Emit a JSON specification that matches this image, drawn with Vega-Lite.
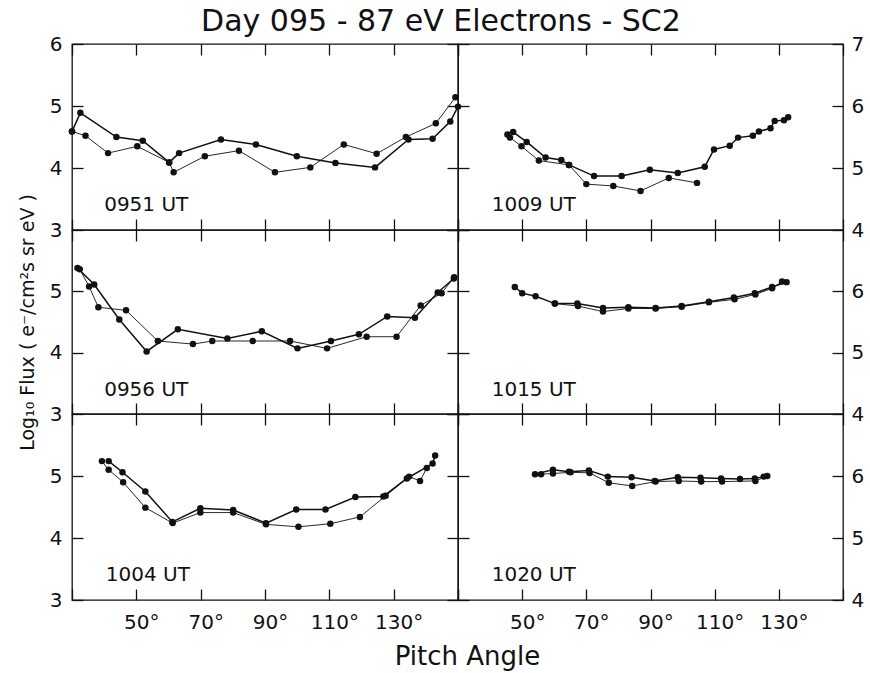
{
  "$schema": "https://vega.github.io/schema/vega-lite/v6.json",
  "padding": {"left": 17, "top": 7, "right": 5, "bottom": 5},
  "background": "white",
  "title": {"text": "Day 095 - 87 eV Electrons - SC2", "fontSize": 30, "font": "DejaVu Sans", "fontWeight": "normal", "color": "#111", "anchor": "middle", "offset": -4},
  "config": {
    "font": "DejaVu Sans",
    "view": {"stroke": "#111", "strokeWidth": 1.3},
    "axis": {"grid": false, "domain": false, "tickColor": "#111", "tickWidth": 1.3, "tickSize": -11, "labelColor": "#111", "labelFont": "DejaVu Sans", "labelFontSize": 20, "labelFontWeight": "normal", "labelFlush": false, "labelOverlap": false, "titleColor": "#111", "titleFont": "DejaVu Sans", "titleFontWeight": "normal"}
  },
  "datasets": {
    "flux": [
      {"panel": "0951 UT", "sweep": "a", "angle": 30, "flux": 4.59},
      {"panel": "0951 UT", "sweep": "a", "angle": 32.6, "flux": 4.89},
      {"panel": "0951 UT", "sweep": "a", "angle": 43.8, "flux": 4.50},
      {"panel": "0951 UT", "sweep": "a", "angle": 52.0, "flux": 4.44},
      {"panel": "0951 UT", "sweep": "a", "angle": 60.2, "flux": 4.09},
      {"panel": "0951 UT", "sweep": "a", "angle": 63.3, "flux": 4.24},
      {"panel": "0951 UT", "sweep": "a", "angle": 76.3, "flux": 4.46},
      {"panel": "0951 UT", "sweep": "a", "angle": 87.2, "flux": 4.38},
      {"panel": "0951 UT", "sweep": "a", "angle": 99.9, "flux": 4.19},
      {"panel": "0951 UT", "sweep": "a", "angle": 111.9, "flux": 4.08},
      {"panel": "0951 UT", "sweep": "a", "angle": 124.2, "flux": 4.01},
      {"panel": "0951 UT", "sweep": "a", "angle": 134.6, "flux": 4.46},
      {"panel": "0951 UT", "sweep": "a", "angle": 142.1, "flux": 4.47},
      {"panel": "0951 UT", "sweep": "a", "angle": 147.6, "flux": 4.75},
      {"panel": "0951 UT", "sweep": "a", "angle": 150.0, "flux": 4.99},
      {"panel": "0951 UT", "sweep": "b", "angle": 30, "flux": 4.59},
      {"panel": "0951 UT", "sweep": "b", "angle": 34.2, "flux": 4.52},
      {"panel": "0951 UT", "sweep": "b", "angle": 41.2, "flux": 4.24},
      {"panel": "0951 UT", "sweep": "b", "angle": 50.3, "flux": 4.35},
      {"panel": "0951 UT", "sweep": "b", "angle": 60.2, "flux": 4.09},
      {"panel": "0951 UT", "sweep": "b", "angle": 61.6, "flux": 3.93},
      {"panel": "0951 UT", "sweep": "b", "angle": 71.3, "flux": 4.19},
      {"panel": "0951 UT", "sweep": "b", "angle": 81.9, "flux": 4.28},
      {"panel": "0951 UT", "sweep": "b", "angle": 93.1, "flux": 3.93},
      {"panel": "0951 UT", "sweep": "b", "angle": 104.1, "flux": 4.01},
      {"panel": "0951 UT", "sweep": "b", "angle": 114.5, "flux": 4.38},
      {"panel": "0951 UT", "sweep": "b", "angle": 124.7, "flux": 4.23},
      {"panel": "0951 UT", "sweep": "b", "angle": 133.8, "flux": 4.50},
      {"panel": "0951 UT", "sweep": "b", "angle": 143.1, "flux": 4.72},
      {"panel": "0951 UT", "sweep": "b", "angle": 149.2, "flux": 5.14},

      {"panel": "1009 UT", "sweep": "a", "angle": 47.2, "flux": 5.58},
      {"panel": "1009 UT", "sweep": "a", "angle": 51.4, "flux": 5.42},
      {"panel": "1009 UT", "sweep": "a", "angle": 57.3, "flux": 5.17},
      {"panel": "1009 UT", "sweep": "a", "angle": 62.2, "flux": 5.13},
      {"panel": "1009 UT", "sweep": "a", "angle": 64.6, "flux": 5.05},
      {"panel": "1009 UT", "sweep": "a", "angle": 72.4, "flux": 4.87},
      {"panel": "1009 UT", "sweep": "a", "angle": 81.0, "flux": 4.87},
      {"panel": "1009 UT", "sweep": "a", "angle": 89.8, "flux": 4.97},
      {"panel": "1009 UT", "sweep": "a", "angle": 98.5, "flux": 4.92},
      {"panel": "1009 UT", "sweep": "a", "angle": 106.9, "flux": 5.02},
      {"panel": "1009 UT", "sweep": "a", "angle": 109.8, "flux": 5.30},
      {"panel": "1009 UT", "sweep": "a", "angle": 114.7, "flux": 5.36},
      {"panel": "1009 UT", "sweep": "a", "angle": 117.3, "flux": 5.49},
      {"panel": "1009 UT", "sweep": "a", "angle": 121.9, "flux": 5.52},
      {"panel": "1009 UT", "sweep": "a", "angle": 123.8, "flux": 5.59},
      {"panel": "1009 UT", "sweep": "a", "angle": 127.4, "flux": 5.64},
      {"panel": "1009 UT", "sweep": "a", "angle": 128.7, "flux": 5.76},
      {"panel": "1009 UT", "sweep": "a", "angle": 131.6, "flux": 5.77},
      {"panel": "1009 UT", "sweep": "a", "angle": 132.9, "flux": 5.82},
      {"panel": "1009 UT", "sweep": "b", "angle": 45.4, "flux": 5.54},
      {"panel": "1009 UT", "sweep": "b", "angle": 46.2, "flux": 5.49},
      {"panel": "1009 UT", "sweep": "b", "angle": 49.8, "flux": 5.35},
      {"panel": "1009 UT", "sweep": "b", "angle": 55.2, "flux": 5.12},
      {"panel": "1009 UT", "sweep": "b", "angle": 64.6, "flux": 5.05},
      {"panel": "1009 UT", "sweep": "b", "angle": 70.0, "flux": 4.74},
      {"panel": "1009 UT", "sweep": "b", "angle": 78.4, "flux": 4.71},
      {"panel": "1009 UT", "sweep": "b", "angle": 86.9, "flux": 4.63},
      {"panel": "1009 UT", "sweep": "b", "angle": 95.7, "flux": 4.84},
      {"panel": "1009 UT", "sweep": "b", "angle": 104.5, "flux": 4.76},

      {"panel": "0956 UT", "sweep": "a", "angle": 31.7, "flux": 5.38},
      {"panel": "0956 UT", "sweep": "a", "angle": 36.9, "flux": 5.11},
      {"panel": "0956 UT", "sweep": "a", "angle": 44.7, "flux": 4.54},
      {"panel": "0956 UT", "sweep": "a", "angle": 53.2, "flux": 4.02},
      {"panel": "0956 UT", "sweep": "a", "angle": 62.9, "flux": 4.38},
      {"panel": "0956 UT", "sweep": "a", "angle": 78.3, "flux": 4.23},
      {"panel": "0956 UT", "sweep": "a", "angle": 89.0, "flux": 4.35},
      {"panel": "0956 UT", "sweep": "a", "angle": 100.1, "flux": 4.07},
      {"panel": "0956 UT", "sweep": "a", "angle": 110.5, "flux": 4.19},
      {"panel": "0956 UT", "sweep": "a", "angle": 119.2, "flux": 4.30},
      {"panel": "0956 UT", "sweep": "a", "angle": 128.0, "flux": 4.59},
      {"panel": "0956 UT", "sweep": "a", "angle": 136.6, "flux": 4.57},
      {"panel": "0956 UT", "sweep": "a", "angle": 143.7, "flux": 4.98},
      {"panel": "0956 UT", "sweep": "a", "angle": 148.7, "flux": 5.21},
      {"panel": "0956 UT", "sweep": "b", "angle": 32.4, "flux": 5.36},
      {"panel": "0956 UT", "sweep": "b", "angle": 35.3, "flux": 5.08},
      {"panel": "0956 UT", "sweep": "b", "angle": 38.2, "flux": 4.74},
      {"panel": "0956 UT", "sweep": "b", "angle": 46.8, "flux": 4.69},
      {"panel": "0956 UT", "sweep": "b", "angle": 56.7, "flux": 4.19},
      {"panel": "0956 UT", "sweep": "b", "angle": 67.6, "flux": 4.14},
      {"panel": "0956 UT", "sweep": "b", "angle": 73.6, "flux": 4.19},
      {"panel": "0956 UT", "sweep": "b", "angle": 86.2, "flux": 4.19},
      {"panel": "0956 UT", "sweep": "b", "angle": 97.8, "flux": 4.19},
      {"panel": "0956 UT", "sweep": "b", "angle": 109.3, "flux": 4.07},
      {"panel": "0956 UT", "sweep": "b", "angle": 121.6, "flux": 4.26},
      {"panel": "0956 UT", "sweep": "b", "angle": 130.9, "flux": 4.26},
      {"panel": "0956 UT", "sweep": "b", "angle": 138.4, "flux": 4.77},
      {"panel": "0956 UT", "sweep": "b", "angle": 144.9, "flux": 4.97},
      {"panel": "0956 UT", "sweep": "b", "angle": 148.8, "flux": 5.23},

      {"panel": "1015 UT", "sweep": "a", "angle": 47.7, "flux": 6.07},
      {"panel": "1015 UT", "sweep": "a", "angle": 50.0, "flux": 5.97},
      {"panel": "1015 UT", "sweep": "a", "angle": 54.2, "flux": 5.92},
      {"panel": "1015 UT", "sweep": "a", "angle": 60.2, "flux": 5.80},
      {"panel": "1015 UT", "sweep": "a", "angle": 67.2, "flux": 5.80},
      {"panel": "1015 UT", "sweep": "a", "angle": 75.2, "flux": 5.73},
      {"panel": "1015 UT", "sweep": "a", "angle": 83.1, "flux": 5.74},
      {"panel": "1015 UT", "sweep": "a", "angle": 91.6, "flux": 5.73},
      {"panel": "1015 UT", "sweep": "a", "angle": 99.7, "flux": 5.76},
      {"panel": "1015 UT", "sweep": "a", "angle": 108.2, "flux": 5.83},
      {"panel": "1015 UT", "sweep": "a", "angle": 116.0, "flux": 5.90},
      {"panel": "1015 UT", "sweep": "a", "angle": 122.5, "flux": 5.97},
      {"panel": "1015 UT", "sweep": "a", "angle": 127.9, "flux": 6.07},
      {"panel": "1015 UT", "sweep": "a", "angle": 132.4, "flux": 6.15},
      {"panel": "1015 UT", "sweep": "b", "angle": 60.2, "flux": 5.80},
      {"panel": "1015 UT", "sweep": "b", "angle": 67.4, "flux": 5.76},
      {"panel": "1015 UT", "sweep": "b", "angle": 75.2, "flux": 5.67},
      {"panel": "1015 UT", "sweep": "b", "angle": 83.1, "flux": 5.72},
      {"panel": "1015 UT", "sweep": "b", "angle": 91.6, "flux": 5.72},
      {"panel": "1015 UT", "sweep": "b", "angle": 99.7, "flux": 5.75},
      {"panel": "1015 UT", "sweep": "b", "angle": 108.2, "flux": 5.82},
      {"panel": "1015 UT", "sweep": "b", "angle": 116.2, "flux": 5.87},
      {"panel": "1015 UT", "sweep": "b", "angle": 122.7, "flux": 5.95},
      {"panel": "1015 UT", "sweep": "b", "angle": 127.9, "flux": 6.05},
      {"panel": "1015 UT", "sweep": "b", "angle": 131.0, "flux": 6.16},

      {"panel": "1004 UT", "sweep": "a", "angle": 41.4, "flux": 5.24},
      {"panel": "1004 UT", "sweep": "a", "angle": 45.7, "flux": 5.06},
      {"panel": "1004 UT", "sweep": "a", "angle": 52.8, "flux": 4.75},
      {"panel": "1004 UT", "sweep": "a", "angle": 61.2, "flux": 4.26},
      {"panel": "1004 UT", "sweep": "a", "angle": 69.9, "flux": 4.48},
      {"panel": "1004 UT", "sweep": "a", "angle": 80.1, "flux": 4.45},
      {"panel": "1004 UT", "sweep": "a", "angle": 90.3, "flux": 4.24},
      {"panel": "1004 UT", "sweep": "a", "angle": 99.7, "flux": 4.46},
      {"panel": "1004 UT", "sweep": "a", "angle": 108.8, "flux": 4.46},
      {"panel": "1004 UT", "sweep": "a", "angle": 118.1, "flux": 4.66},
      {"panel": "1004 UT", "sweep": "a", "angle": 126.8, "flux": 4.67},
      {"panel": "1004 UT", "sweep": "a", "angle": 134.1, "flux": 4.96},
      {"panel": "1004 UT", "sweep": "a", "angle": 142.1, "flux": 5.20},
      {"panel": "1004 UT", "sweep": "a", "angle": 142.9, "flux": 5.33},
      {"panel": "1004 UT", "sweep": "b", "angle": 39.3, "flux": 5.24},
      {"panel": "1004 UT", "sweep": "b", "angle": 41.4, "flux": 5.10},
      {"panel": "1004 UT", "sweep": "b", "angle": 45.9, "flux": 4.90},
      {"panel": "1004 UT", "sweep": "b", "angle": 52.8, "flux": 4.49},
      {"panel": "1004 UT", "sweep": "b", "angle": 61.3, "flux": 4.24},
      {"panel": "1004 UT", "sweep": "b", "angle": 69.9, "flux": 4.41},
      {"panel": "1004 UT", "sweep": "b", "angle": 80.1, "flux": 4.41},
      {"panel": "1004 UT", "sweep": "b", "angle": 90.3, "flux": 4.22},
      {"panel": "1004 UT", "sweep": "b", "angle": 100.4, "flux": 4.18},
      {"panel": "1004 UT", "sweep": "b", "angle": 110.3, "flux": 4.23},
      {"panel": "1004 UT", "sweep": "b", "angle": 119.5, "flux": 4.34},
      {"panel": "1004 UT", "sweep": "b", "angle": 127.5, "flux": 4.68},
      {"panel": "1004 UT", "sweep": "b", "angle": 134.8, "flux": 4.99},
      {"panel": "1004 UT", "sweep": "b", "angle": 138.2, "flux": 4.92},
      {"panel": "1004 UT", "sweep": "b", "angle": 140.3, "flux": 5.13},

      {"panel": "1020 UT", "sweep": "a", "angle": 54.0, "flux": 6.03},
      {"panel": "1020 UT", "sweep": "a", "angle": 59.6, "flux": 6.10},
      {"panel": "1020 UT", "sweep": "a", "angle": 64.6, "flux": 6.07},
      {"panel": "1020 UT", "sweep": "a", "angle": 70.8, "flux": 6.09},
      {"panel": "1020 UT", "sweep": "a", "angle": 76.7, "flux": 5.99},
      {"panel": "1020 UT", "sweep": "a", "angle": 84.1, "flux": 5.98},
      {"panel": "1020 UT", "sweep": "a", "angle": 91.3, "flux": 5.92},
      {"panel": "1020 UT", "sweep": "a", "angle": 98.5, "flux": 5.98},
      {"panel": "1020 UT", "sweep": "a", "angle": 105.6, "flux": 5.97},
      {"panel": "1020 UT", "sweep": "a", "angle": 112.0, "flux": 5.96},
      {"panel": "1020 UT", "sweep": "a", "angle": 117.9, "flux": 5.95},
      {"panel": "1020 UT", "sweep": "a", "angle": 122.5, "flux": 5.96},
      {"panel": "1020 UT", "sweep": "a", "angle": 125.3, "flux": 5.99},
      {"panel": "1020 UT", "sweep": "b", "angle": 55.9, "flux": 6.03},
      {"panel": "1020 UT", "sweep": "b", "angle": 59.6, "flux": 6.04},
      {"panel": "1020 UT", "sweep": "b", "angle": 65.1, "flux": 6.06},
      {"panel": "1020 UT", "sweep": "b", "angle": 71.0, "flux": 6.05},
      {"panel": "1020 UT", "sweep": "b", "angle": 77.0, "flux": 5.89},
      {"panel": "1020 UT", "sweep": "b", "angle": 84.3, "flux": 5.84},
      {"panel": "1020 UT", "sweep": "b", "angle": 91.6, "flux": 5.91},
      {"panel": "1020 UT", "sweep": "b", "angle": 98.8, "flux": 5.92},
      {"panel": "1020 UT", "sweep": "b", "angle": 105.8, "flux": 5.91},
      {"panel": "1020 UT", "sweep": "b", "angle": 112.3, "flux": 5.91},
      {"panel": "1020 UT", "sweep": "b", "angle": 122.7, "flux": 5.92},
      {"panel": "1020 UT", "sweep": "b", "angle": 126.4, "flux": 6.00}
    ]
  },
  "columns": 2,
  "spacing": 0,
  "bounds": "flush",
  "concat": [
    {
      "width": 386, "height": 186,
      "data": {"name": "flux"},
      "transform": [{"filter": "datum.panel === '0951 UT'"}],
      "layer": [
        {"mark": {"type": "line", "color": "#111"},
         "encoding": {
           "x": {"field": "angle", "type": "quantitative", "scale": {"domain": [30, 150], "nice": false, "zero": false}, "axis": {"orient": "bottom", "values": [30, 50, 70, 90, 110, 130, 150], "labels": false, "title": null}},
           "y": {"field": "flux", "type": "quantitative", "scale": {"domain": [3, 6], "nice": false, "zero": false}, "axis": {"orient": "left", "values": [3, 4, 5, 6], "labelPadding": 21, "title": null}},
           "detail": {"field": "sweep"},
           "strokeWidth": {"field": "sweep", "type": "nominal", "scale": {"domain": ["a", "b"], "range": [1.5, 0.9]}, "legend": null}
         }},
        {"mark": {"type": "circle", "color": "#111", "size": 42, "opacity": 1},
         "encoding": {
           "x": {"field": "angle", "type": "quantitative", "axis": {"orient": "top", "values": [30, 50, 70, 90, 110, 130, 150], "labels": false, "title": null}},
           "y": {"field": "flux", "type": "quantitative", "axis": {"orient": "right", "values": [3, 4, 5, 6], "labels": false, "title": null}}
         }},
        {"data": {"values": [{"label": "0951 UT"}]},
         "mark": {"type": "text", "align": "left", "baseline": "alphabetic", "fontSize": 20, "fontWeight": "normal", "color": "#111"},
         "encoding": {
           "x": {"datum": 40, "type": "quantitative", "axis": null},
           "y": {"datum": 3.3, "type": "quantitative", "axis": null},
           "text": {"field": "label"}
         }}
      ],
      "resolve": {"axis": {"x": "independent", "y": "independent"}}
    },
    {
      "width": 385, "height": 186,
      "data": {"name": "flux"},
      "transform": [{"filter": "datum.panel === '1009 UT'"}],
      "layer": [
        {"mark": {"type": "line", "color": "#111"},
         "encoding": {
           "x": {"field": "angle", "type": "quantitative", "scale": {"domain": [30, 150], "nice": false, "zero": false}, "axis": {"orient": "bottom", "values": [30, 50, 70, 90, 110, 130, 150], "labels": false, "title": null}},
           "y": {"field": "flux", "type": "quantitative", "scale": {"domain": [4, 7], "nice": false, "zero": false}, "axis": {"orient": "left", "values": [4, 5, 6, 7], "labels": false, "title": null}},
           "detail": {"field": "sweep"},
           "strokeWidth": {"field": "sweep", "type": "nominal", "scale": {"domain": ["a", "b"], "range": [1.5, 0.9]}, "legend": null}
         }},
        {"mark": {"type": "circle", "color": "#111", "size": 42, "opacity": 1},
         "encoding": {
           "x": {"field": "angle", "type": "quantitative", "axis": {"orient": "top", "values": [30, 50, 70, 90, 110, 130, 150], "labels": false, "title": null}},
           "y": {"field": "flux", "type": "quantitative", "axis": {"orient": "right", "values": [4, 5, 6, 7], "labelPadding": 19, "title": null}}
         }},
        {"data": {"values": [{"label": "1009 UT"}]},
         "mark": {"type": "text", "align": "left", "baseline": "alphabetic", "fontSize": 20, "fontWeight": "normal", "color": "#111"},
         "encoding": {
           "x": {"datum": 40.5, "type": "quantitative", "axis": null},
           "y": {"datum": 4.3, "type": "quantitative", "axis": null},
           "text": {"field": "label"}
         }}
      ],
      "resolve": {"axis": {"x": "independent", "y": "independent"}}
    },
    {
      "width": 386, "height": 184,
      "data": {"name": "flux"},
      "transform": [{"filter": "datum.panel === '0956 UT'"}],
      "layer": [
        {"mark": {"type": "line", "color": "#111"},
         "encoding": {
           "x": {"field": "angle", "type": "quantitative", "scale": {"domain": [30, 150], "nice": false, "zero": false}, "axis": {"orient": "bottom", "values": [30, 50, 70, 90, 110, 130, 150], "labels": false, "title": null}},
           "y": {"field": "flux", "type": "quantitative", "scale": {"domain": [3, 6], "nice": false, "zero": false}, "axis": {"orient": "left", "values": [3, 4, 5], "labelPadding": 21, "title": "Log₁₀ Flux ( e⁻/cm²s sr eV )", "titleFontSize": 19, "titlePadding": 12}},
           "detail": {"field": "sweep"},
           "strokeWidth": {"field": "sweep", "type": "nominal", "scale": {"domain": ["a", "b"], "range": [1.5, 0.9]}, "legend": null}
         }},
        {"mark": {"type": "circle", "color": "#111", "size": 42, "opacity": 1},
         "encoding": {
           "x": {"field": "angle", "type": "quantitative", "axis": {"orient": "top", "values": [30, 50, 70, 90, 110, 130, 150], "labels": false, "title": null}},
           "y": {"field": "flux", "type": "quantitative", "axis": {"orient": "right", "values": [3, 4, 5, 6], "labels": false, "title": null}}
         }},
        {"data": {"values": [{"label": "0956 UT"}]},
         "mark": {"type": "text", "align": "left", "baseline": "alphabetic", "fontSize": 20, "fontWeight": "normal", "color": "#111"},
         "encoding": {
           "x": {"datum": 40, "type": "quantitative", "axis": null},
           "y": {"datum": 3.3, "type": "quantitative", "axis": null},
           "text": {"field": "label"}
         }}
      ],
      "resolve": {"axis": {"x": "independent", "y": "independent"}}
    },
    {
      "width": 385, "height": 184,
      "data": {"name": "flux"},
      "transform": [{"filter": "datum.panel === '1015 UT'"}],
      "layer": [
        {"mark": {"type": "line", "color": "#111"},
         "encoding": {
           "x": {"field": "angle", "type": "quantitative", "scale": {"domain": [30, 150], "nice": false, "zero": false}, "axis": {"orient": "bottom", "values": [30, 50, 70, 90, 110, 130, 150], "labels": false, "title": null}},
           "y": {"field": "flux", "type": "quantitative", "scale": {"domain": [4, 7], "nice": false, "zero": false}, "axis": {"orient": "left", "values": [4, 5, 6, 7], "labels": false, "title": null}},
           "detail": {"field": "sweep"},
           "strokeWidth": {"field": "sweep", "type": "nominal", "scale": {"domain": ["a", "b"], "range": [1.5, 0.9]}, "legend": null}
         }},
        {"mark": {"type": "circle", "color": "#111", "size": 42, "opacity": 1},
         "encoding": {
           "x": {"field": "angle", "type": "quantitative", "axis": {"orient": "top", "values": [30, 50, 70, 90, 110, 130, 150], "labels": false, "title": null}},
           "y": {"field": "flux", "type": "quantitative", "axis": {"orient": "right", "values": [4, 5, 6], "labelPadding": 19, "title": null}}
         }},
        {"data": {"values": [{"label": "1015 UT"}]},
         "mark": {"type": "text", "align": "left", "baseline": "alphabetic", "fontSize": 20, "fontWeight": "normal", "color": "#111"},
         "encoding": {
           "x": {"datum": 40.5, "type": "quantitative", "axis": null},
           "y": {"datum": 4.3, "type": "quantitative", "axis": null},
           "text": {"field": "label"}
         }}
      ],
      "resolve": {"axis": {"x": "independent", "y": "independent"}}
    },
    {
      "width": 386, "height": 186,
      "data": {"name": "flux"},
      "transform": [{"filter": "datum.panel === '1004 UT'"}],
      "layer": [
        {"mark": {"type": "line", "color": "#111"},
         "encoding": {
           "x": {"field": "angle", "type": "quantitative", "scale": {"domain": [30, 150], "nice": false, "zero": false}, "axis": {"orient": "bottom", "values": [30, 50, 70, 90, 110, 130, 150], "labelExpr": "datum.value >= 50 && datum.value <= 130 ? datum.value + '°' : ''", "labelPadding": 23, "labelOffset": 5, "title": "Pitch Angle", "titleFontSize": 26, "titlePadding": 11, "titleX": 395, "titleAlign": "center"}},
           "y": {"field": "flux", "type": "quantitative", "scale": {"domain": [3, 6], "nice": false, "zero": false}, "axis": {"orient": "left", "values": [3, 4, 5], "labelPadding": 21, "title": null}},
           "detail": {"field": "sweep"},
           "strokeWidth": {"field": "sweep", "type": "nominal", "scale": {"domain": ["a", "b"], "range": [1.5, 0.9]}, "legend": null}
         }},
        {"mark": {"type": "circle", "color": "#111", "size": 42, "opacity": 1},
         "encoding": {
           "x": {"field": "angle", "type": "quantitative", "axis": {"orient": "top", "values": [30, 50, 70, 90, 110, 130, 150], "labels": false, "title": null}},
           "y": {"field": "flux", "type": "quantitative", "axis": {"orient": "right", "values": [3, 4, 5, 6], "labels": false, "title": null}}
         }},
        {"data": {"values": [{"label": "1004 UT"}]},
         "mark": {"type": "text", "align": "left", "baseline": "alphabetic", "fontSize": 20, "fontWeight": "normal", "color": "#111"},
         "encoding": {
           "x": {"datum": 40.5, "type": "quantitative", "axis": null},
           "y": {"datum": 3.3, "type": "quantitative", "axis": null},
           "text": {"field": "label"}
         }}
      ],
      "resolve": {"axis": {"x": "independent", "y": "independent"}}
    },
    {
      "width": 385, "height": 186,
      "data": {"name": "flux"},
      "transform": [{"filter": "datum.panel === '1020 UT'"}],
      "layer": [
        {"mark": {"type": "line", "color": "#111"},
         "encoding": {
           "x": {"field": "angle", "type": "quantitative", "scale": {"domain": [30, 150], "nice": false, "zero": false}, "axis": {"orient": "bottom", "values": [30, 50, 70, 90, 110, 130, 150], "labelExpr": "datum.value >= 50 && datum.value <= 130 ? datum.value + '°' : ''", "labelPadding": 23, "labelOffset": 5, "title": null}},
           "y": {"field": "flux", "type": "quantitative", "scale": {"domain": [4, 7], "nice": false, "zero": false}, "axis": {"orient": "left", "values": [4, 5, 6, 7], "labels": false, "title": null}},
           "detail": {"field": "sweep"},
           "strokeWidth": {"field": "sweep", "type": "nominal", "scale": {"domain": ["a", "b"], "range": [1.5, 0.9]}, "legend": null}
         }},
        {"mark": {"type": "circle", "color": "#111", "size": 42, "opacity": 1},
         "encoding": {
           "x": {"field": "angle", "type": "quantitative", "axis": {"orient": "top", "values": [30, 50, 70, 90, 110, 130, 150], "labels": false, "title": null}},
           "y": {"field": "flux", "type": "quantitative", "axis": {"orient": "right", "values": [4, 5, 6], "labelPadding": 19, "title": null}}
         }},
        {"data": {"values": [{"label": "1020 UT"}]},
         "mark": {"type": "text", "align": "left", "baseline": "alphabetic", "fontSize": 20, "fontWeight": "normal", "color": "#111"},
         "encoding": {
           "x": {"datum": 40.5, "type": "quantitative", "axis": null},
           "y": {"datum": 4.3, "type": "quantitative", "axis": null},
           "text": {"field": "label"}
         }}
      ],
      "resolve": {"axis": {"x": "independent", "y": "independent"}}
    }
  ]
}
